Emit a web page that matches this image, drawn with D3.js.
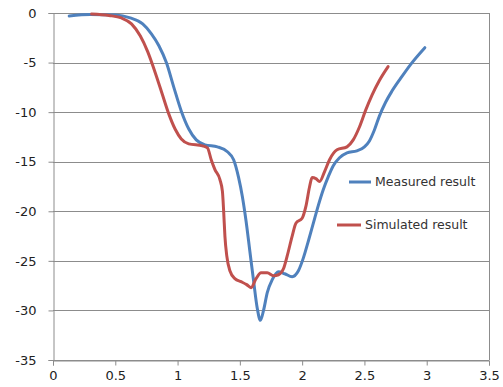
<!DOCTYPE html>
<html>
<head>
<meta charset="utf-8">
<script src="https://cdn.jsdelivr.net/npm/d3@7"></script>
<style>
  body { margin: 0; background: #fff; }
  svg { display: block; }
</style>
</head>
<body>
<svg id="chart" width="503" height="387"></svg>
<script>
// ---- Data ----
const measuredX = [0.13, 0.3, 0.5, 0.62, 0.72, 0.79, 0.85, 0.91, 0.97, 1.03, 1.09, 1.15, 1.22, 1.32, 1.40, 1.45, 1.49, 1.52, 1.55, 1.58, 1.61, 1.64, 1.665, 1.69, 1.72, 1.76, 1.81, 1.86, 1.92, 1.97, 2.01, 2.05, 2.09, 2.13, 2.17, 2.21, 2.25, 2.30, 2.36, 2.44, 2.50, 2.54, 2.58, 2.62, 2.67, 2.72, 2.79, 2.87, 2.985];
const measuredY = [-0.3, -0.15, -0.2, -0.5, -1.1, -2.1, -3.3, -5.0, -7.5, -9.9, -11.7, -12.8, -13.3, -13.5, -14.0, -14.8, -16.6, -18.5, -21.0, -24.0, -27.0, -29.8, -31.0, -30.0, -28.2, -26.9, -26.1, -26.3, -26.6, -26.0, -24.7, -23.0, -21.2, -19.4, -17.8, -16.5, -15.4, -14.6, -14.1, -13.9, -13.5, -12.9, -11.8, -10.4, -9.0, -7.9, -6.6, -5.2, -3.5];

const simulatedX = [0.31, 0.45, 0.55, 0.63, 0.70, 0.76, 0.82, 0.88, 0.93, 0.98, 1.03, 1.09, 1.2, 1.24, 1.27, 1.30, 1.34, 1.36, 1.37, 1.38, 1.395, 1.42, 1.46, 1.51, 1.555, 1.59, 1.63, 1.67, 1.72, 1.77, 1.81, 1.85, 1.88, 1.92, 1.95, 2.0, 2.03, 2.06, 2.08, 2.11, 2.14, 2.18, 2.22, 2.28, 2.36, 2.41, 2.46, 2.51, 2.56, 2.62, 2.69];
const simulatedY = [-0.1, -0.25, -0.5, -1.1, -2.3, -3.9, -6.0, -8.3, -10.2, -11.7, -12.7, -13.2, -13.4, -13.6, -14.8, -15.8, -16.8, -18.0, -20.0, -22.5, -24.5, -26.0, -26.8, -27.1, -27.4, -27.7, -26.8, -26.2, -26.2, -26.5, -26.4, -25.8, -24.5, -22.5, -21.2, -20.7, -19.5, -17.5, -16.6, -16.7, -17.0, -16.0, -14.8, -13.8, -13.5, -12.8, -11.5, -9.8, -8.3, -6.8, -5.4];

const xTicks = [0, 0.5, 1, 1.5, 2, 2.5, 3, 3.5];
const yTicks = [0, -5, -10, -15, -20, -25, -30, -35];
const seriesNames = ["Measured result", "Simulated result"];
const seriesColors = ["#4F81BD", "#C0504D"];

// ---- Layout ----
const svg = d3.select("#chart");
const pLeft = 53, pRight = 489, pTop = 13, pBottom = 360;
const x = d3.scaleLinear().domain([0, 3.5]).range([pLeft, pRight]);
const y = d3.scaleLinear().domain([-35, 0]).range([pBottom, pTop]);
const gridColor = "#8c8c8c";
const font = "DejaVu Sans, Verdana, sans-serif";

// gridlines
svg.append("g").selectAll("line").data(yTicks).join("line")
  .attr("x1", pLeft).attr("x2", pRight)
  .attr("y1", d => Math.round(y(d)) + 0.5).attr("y2", d => Math.round(y(d)) + 0.5)
  .attr("stroke", gridColor).attr("stroke-width", 1);

// right border
svg.append("line")
  .attr("x1", pRight + 0.5).attr("x2", pRight + 0.5)
  .attr("y1", pTop).attr("y2", pBottom)
  .attr("stroke", gridColor);

// Y axis
const yAxis = d3.axisLeft(y).tickValues(yTicks).tickSize(5).tickPadding(12)
  .tickFormat(d => String(d));
const gy = svg.append("g").attr("transform", `translate(${pLeft + 0.5},0)`).call(yAxis);
gy.select(".domain").attr("stroke", gridColor);
gy.selectAll(".tick line").attr("stroke", gridColor);
gy.selectAll("text").attr("font-family", font).attr("font-size", 13).attr("fill", "#222");

// X axis
const xAxis = d3.axisBottom(x).tickValues(xTicks).tickSize(5).tickPadding(5)
  .tickFormat(d => String(d));
const gx = svg.append("g").attr("transform", `translate(0,${pBottom + 0.5})`).call(xAxis);
gx.select(".domain").attr("stroke", gridColor);
gx.selectAll(".tick line").attr("stroke", gridColor);
gx.selectAll("text").attr("font-family", font).attr("font-size", 13).attr("fill", "#222");

// Lines
const line = d3.line().x(d => x(d[0])).y(d => y(d[1])).curve(d3.curveMonotoneX);
const measured = measuredX.map((v, i) => [v, measuredY[i]]);
const simulated = simulatedX.map((v, i) => [v, simulatedY[i]]);

svg.append("path").datum(measured).attr("d", line)
  .attr("fill", "none").attr("stroke", seriesColors[0]).attr("stroke-width", 3)
  .attr("stroke-linecap", "round").attr("stroke-linejoin", "round");
svg.append("path").datum(simulated).attr("d", line)
  .attr("fill", "none").attr("stroke", seriesColors[1]).attr("stroke-width", 3)
  .attr("stroke-linecap", "round").attr("stroke-linejoin", "round");

// Legend
const legend = [
  { name: seriesNames[0], color: seriesColors[0], lx: 349, tx: 375, ly: 182 },
  { name: seriesNames[1], color: seriesColors[1], lx: 337, tx: 365, ly: 225 }
];
const lg = svg.append("g");
legend.forEach(l => {
  lg.append("line").attr("x1", l.lx).attr("x2", l.tx - 4)
    .attr("y1", l.ly).attr("y2", l.ly)
    .attr("stroke", l.color).attr("stroke-width", 3);
  lg.append("text").attr("x", l.tx).attr("y", l.ly).attr("dy", "0.35em")
    .attr("font-family", font).attr("font-size", 12.5).attr("fill", "#333")
    .text(l.name);
});
</script>
</body>
</html>
